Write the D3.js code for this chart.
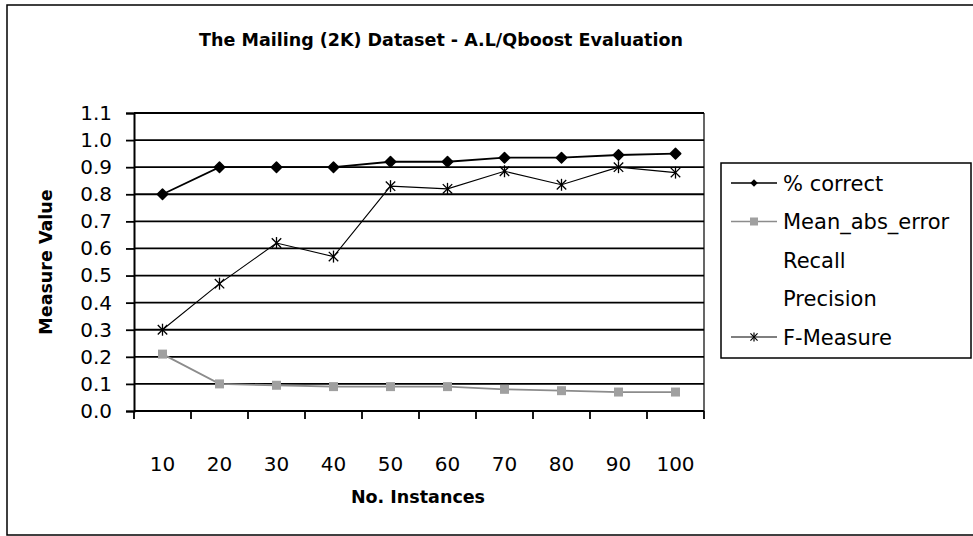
<!DOCTYPE html>
<html>
<head>
<meta charset="utf-8">
<script src="https://cdn.jsdelivr.net/npm/d3@7"></script>
<style>
  html, body { margin: 0; padding: 0; background: #fff; }
  svg { display: block; }
  text { font-family: "DejaVu Sans", sans-serif; fill: #000; }
</style>
</head>
<body>
<svg id="chart" width="973" height="536"></svg>
<script>
// Number of training instances on the x axis
const instances = ["10", "20", "30", "40", "50", "60", "70", "80", "90", "100"];

// Evaluation measures per instance count
const pctCorrect   = [0.80, 0.90, 0.90, 0.90, 0.92, 0.92, 0.935, 0.935, 0.945, 0.95];
const meanAbsError = [0.21, 0.10, 0.095, 0.09, 0.09, 0.09, 0.08, 0.075, 0.07, 0.07];
const fMeasure     = [0.30, 0.47, 0.62, 0.57, 0.83, 0.82, 0.885, 0.835, 0.90, 0.88];

const legendLabels = ["% correct", "Mean_abs_error", "Recall", "Precision", "F-Measure"];
const yTicks = [0.0, 0.1, 0.2, 0.3, 0.4, 0.5, 0.6, 0.7, 0.8, 0.9, 1.0, 1.1];

const svg = d3.select("#chart");
const plot = { left: 134, right: 704, top: 113, bottom: 411 };

const x = d3.scaleBand().domain(instances).range([plot.left, plot.right]);
const y = d3.scaleLinear().domain([0, 1.1]).range([plot.bottom, plot.top]);

// outer chart frame
svg.append("rect")
  .attr("x", 7).attr("y", 5).attr("width", 990).attr("height", 530)
  .attr("fill", "none").attr("stroke", "#000").attr("stroke-width", 1.5);

// title
svg.append("text")
  .attr("x", 441).attr("y", 46)
  .attr("text-anchor", "middle")
  .attr("font-size", 17.5).attr("font-weight", "bold")
  .text("The Mailing (2K) Dataset - A.L/Qboost Evaluation");

// horizontal gridlines
svg.append("g").selectAll("line")
  .data(yTicks.filter(v => v > 0))
  .join("line")
  .attr("x1", plot.left).attr("x2", plot.right)
  .attr("y1", d => y(d)).attr("y2", d => y(d))
  .attr("stroke", "#000").attr("stroke-width", 1.8);

// plot area border (right side)
svg.append("line")
  .attr("x1", plot.right).attr("x2", plot.right)
  .attr("y1", plot.top).attr("y2", plot.bottom)
  .attr("stroke", "#000").attr("stroke-width", 1.2);

// y axis
const yAxis = d3.axisLeft(y).tickValues(yTicks).tickFormat(d3.format(".1f"))
  .tickSize(8).tickPadding(14);
const gy = svg.append("g").attr("transform", `translate(${plot.left},0)`).call(yAxis);
gy.select(".domain").attr("stroke", "#000").attr("stroke-width", 2);
gy.selectAll(".tick line").attr("stroke", "#000").attr("stroke-width", 1.8);
gy.selectAll(".tick text").attr("font-size", 20).attr("font-family", "DejaVu Sans").attr("fill", "#000");

// x axis: labels centred in each category, ticks on category boundaries
const xAxis = d3.axisBottom(x).tickSize(0).tickPadding(46);
const gx = svg.append("g").attr("transform", `translate(0,${plot.bottom})`).call(xAxis);
gx.select(".domain").remove();
gx.selectAll(".tick text").attr("font-size", 20).attr("font-family", "DejaVu Sans").attr("fill", "#000");

const boundaries = instances.map(c => x(c)).concat([x.range()[1]]);
svg.append("line")
  .attr("x1", plot.left).attr("x2", plot.right)
  .attr("y1", plot.bottom).attr("y2", plot.bottom)
  .attr("stroke", "#000").attr("stroke-width", 2);
svg.append("g").selectAll("line")
  .data(boundaries)
  .join("line")
  .attr("x1", d => d).attr("x2", d => d)
  .attr("y1", plot.bottom).attr("y2", plot.bottom + 8)
  .attr("stroke", "#000").attr("stroke-width", 1.8);

// axis titles
svg.append("text")
  .attr("transform", "translate(52,262) rotate(-90)")
  .attr("text-anchor", "middle")
  .attr("font-size", 17.5).attr("font-weight", "bold")
  .text("Measure Value");

svg.append("text")
  .attr("x", 418).attr("y", 503)
  .attr("text-anchor", "middle")
  .attr("font-size", 17.5).attr("font-weight", "bold")
  .text("No. Instances");

const cx = (d, i) => x(instances[i]) + x.bandwidth() / 2;
const line = d3.line().x((d, i) => cx(d, i)).y(d => y(d));

// Mean_abs_error series
svg.append("path").datum(meanAbsError)
  .attr("d", line).attr("fill", "none")
  .attr("stroke", "#8c8c8c").attr("stroke-width", 1.8);
svg.append("g").selectAll("rect")
  .data(meanAbsError)
  .join("rect")
  .attr("x", (d, i) => cx(d, i) - 4.5).attr("y", d => y(d) - 4.5)
  .attr("width", 9).attr("height", 9)
  .attr("fill", "#a0a0a0");

// F-Measure series
const star = d3.symbol().type(d3.symbolTimes).size(60);
svg.append("path").datum(fMeasure)
  .attr("d", line).attr("fill", "none")
  .attr("stroke", "#000").attr("stroke-width", 1.1);
const fm = svg.append("g").selectAll("g")
  .data(fMeasure)
  .join("g")
  .attr("transform", (d, i) => `translate(${cx(d, i)},${y(d)})`);
fm.append("path").attr("d", star).attr("fill", "none").attr("stroke", "#000").attr("stroke-width", 1.3);
fm.append("line").attr("x1", 0).attr("x2", 0).attr("y1", -6).attr("y2", 6)
  .attr("stroke", "#000").attr("stroke-width", 1.3);

// % correct series
const diamond = d3.symbol().type(d3.symbolDiamond2).size(70);
svg.append("path").datum(pctCorrect)
  .attr("d", line).attr("fill", "none")
  .attr("stroke", "#000").attr("stroke-width", 1.8);
svg.append("g").selectAll("path")
  .data(pctCorrect)
  .join("path")
  .attr("transform", (d, i) => `translate(${cx(d, i)},${y(d)})`)
  .attr("d", diamond).attr("fill", "#000").attr("stroke", "#000").attr("stroke-width", 1.5)
  .attr("stroke-linejoin", "round");

// legend
const lg = svg.append("g");
lg.append("rect")
  .attr("x", 721).attr("y", 163).attr("width", 250).attr("height", 195)
  .attr("fill", "#fff").attr("stroke", "#000").attr("stroke-width", 1.5);
const rowY = i => 183 + i * 38.5;
legendLabels.forEach((label, i) => {
  lg.append("text")
    .attr("x", 783).attr("y", rowY(i)).attr("dy", "0.36em")
    .attr("font-size", 21)
    .text(label);
});
// legend samples
lg.append("line").attr("x1", 731).attr("x2", 777).attr("y1", rowY(0)).attr("y2", rowY(0))
  .attr("stroke", "#000").attr("stroke-width", 1.5);
lg.append("path").attr("transform", `translate(754,${rowY(0)})`)
  .attr("d", d3.symbol().type(d3.symbolDiamond2).size(36)).attr("fill", "#000");
lg.append("line").attr("x1", 731).attr("x2", 777).attr("y1", rowY(1)).attr("y2", rowY(1))
  .attr("stroke", "#8c8c8c").attr("stroke-width", 1.5);
lg.append("rect").attr("x", 750).attr("y", rowY(1) - 4).attr("width", 8).attr("height", 8)
  .attr("fill", "#a0a0a0");
lg.append("line").attr("x1", 731).attr("x2", 777).attr("y1", rowY(4)).attr("y2", rowY(4))
  .attr("stroke", "#000").attr("stroke-width", 1.1);
const ls = lg.append("g").attr("transform", `translate(754,${rowY(4)})`);
ls.append("path").attr("d", d3.symbol().type(d3.symbolTimes).size(35))
  .attr("fill", "none").attr("stroke", "#000").attr("stroke-width", 1.2);
ls.append("line").attr("x1", 0).attr("x2", 0).attr("y1", -4.5).attr("y2", 4.5)
  .attr("stroke", "#000").attr("stroke-width", 1.2);
</script>
</body>
</html>
